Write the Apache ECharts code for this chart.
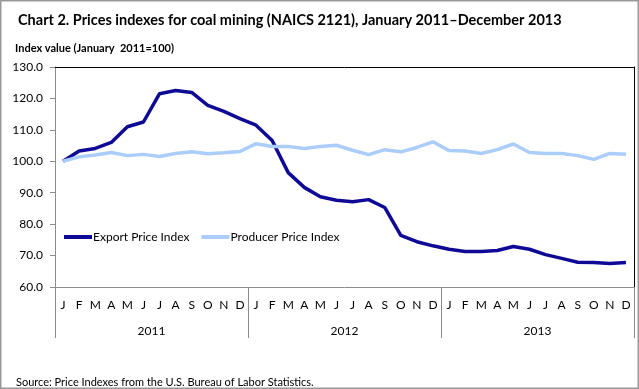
<!DOCTYPE html>
<html><head><meta charset="utf-8">
<script src="https://cdn.jsdelivr.net/npm/echarts@6/dist/echarts.min.js"></script>
<style>html,body{margin:0;padding:0;background:#fff}#c{width:639px;height:389px}</style>
</head><body><div id="c"></div>
<script>
const months = ["J","F","M","A","M","J","J","A","S","O","N","D","J","F","M","A","M","J","J","A","S","O","N","D","J","F","M","A","M","J","J","A","S","O","N","D"];
const years = ["2011","2012","2013"];
const exportIndex = [100.0,103.3,104.1,106.0,111.0,112.5,121.5,122.5,121.9,117.8,115.9,113.6,
  111.5,106.6,96.4,91.7,88.7,87.6,87.1,87.8,85.3,76.4,74.4,73.1,
  72.0,71.3,71.3,71.6,72.9,72.0,70.3,69.1,67.9,67.8,67.5,67.8];
const producerIndex = [100.0,101.4,102.0,102.8,101.8,102.2,101.5,102.5,103.0,102.4,102.7,103.1,
  105.6,104.7,104.7,104.1,104.7,105.1,103.5,102.1,103.7,103.0,104.4,106.2,
  103.4,103.3,102.5,103.7,105.5,102.8,102.5,102.5,101.8,100.6,102.5,102.2];
const yTicks = {min:60, max:130, interval:10};

const font = "Lato, 'Open Sans', sans-serif";
const chart = echarts.init(document.getElementById('c'), null, {renderer:'canvas'});
chart.setOption({
  animation:false,
  backgroundColor:'#fff',
  title:[
    {text:'Chart 2. Prices indexes for coal mining (NAICS 2121), January 2011\u2013December 2013', left:13, top:8,
     textStyle:{fontFamily:font, fontSize:14.5, fontWeight:'bold', color:'#000'}},
    {text:'Index value (January  2011=100)', left:10, top:38,
     textStyle:{fontFamily:font, fontSize:11, fontWeight:'bold', color:'#000'}},
    {text:'Source: Price Indexes from the U.S. Bureau of Labor Statistics.', left:11, top:372,
     textStyle:{fontFamily:font, fontSize:11, fontWeight:'normal', color:'#000'}}
  ],
  legend:{
    left:59, top:226, itemWidth:28, itemHeight:4, itemGap:12,
    icon:'rect',
    textStyle:{fontFamily:font, fontSize:12, color:'#000', padding:[0,0,0,-4]},
    data:['Export Price Index','Producer Price Index']
  },
  grid:{left:55, right:5, top:67, bottom:102},
  xAxis:[
    {type:'category', data:months, position:'bottom', boundaryGap:true,
     axisLine:{lineStyle:{color:'#8c8c8c', width:1}},
     axisTick:{alignWithLabel:true, inside:true, length:3, lineStyle:{color:'#8c8c8c'}},
     axisLabel:{interval:0, margin:12, fontFamily:font, fontSize:12, color:'#000'}},
    {type:'category', data:years, position:'bottom', boundaryGap:true,
     axisLine:{show:false},
     axisTick:{show:true, length:51, lineStyle:{color:'#8c8c8c'}},
     axisLabel:{margin:38, fontFamily:font, fontSize:12, color:'#000'}},
    {type:'category', data:months, position:'top',
     axisLine:{lineStyle:{color:'#000', width:1}}, axisTick:{show:false}, axisLabel:{show:false}}
  ],
  yAxis:[
    {type:'value', min:yTicks.min, max:yTicks.max, interval:yTicks.interval,
     axisLine:{show:true, lineStyle:{color:'#8c8c8c'}},
     axisTick:{show:true, length:5, lineStyle:{color:'#8c8c8c'}},
     splitLine:{show:false},
     axisLabel:{margin:12, fontFamily:font, fontSize:12, color:'#000', formatter:v=>v.toFixed(1)}},
    {type:'value', position:'right', min:yTicks.min, max:yTicks.max, interval:yTicks.interval,
     axisLine:{show:true, lineStyle:{color:'#000'}}, axisTick:{show:false}, axisLabel:{show:false}, splitLine:{show:false}}
  ],
  series:[
    {name:'Export Price Index', type:'line', data:exportIndex, xAxisIndex:0, yAxisIndex:0,
     symbol:'none', lineStyle:{color:'#0f0a96', width:3.5}, itemStyle:{color:'#0f0a96'}},
    {name:'Producer Price Index', type:'line', data:producerIndex, xAxisIndex:0, yAxisIndex:0,
     symbol:'none', lineStyle:{color:'#abcdfc', width:3.5}, itemStyle:{color:'#abcdfc'}}
  ],
  graphic:[
    {type:'rect', shape:{x:0.75, y:0.75, width:637.5, height:387.5}, style:{fill:'none', stroke:'#999', lineWidth:1.5}, silent:true}
  ]
});
</script></body></html>
